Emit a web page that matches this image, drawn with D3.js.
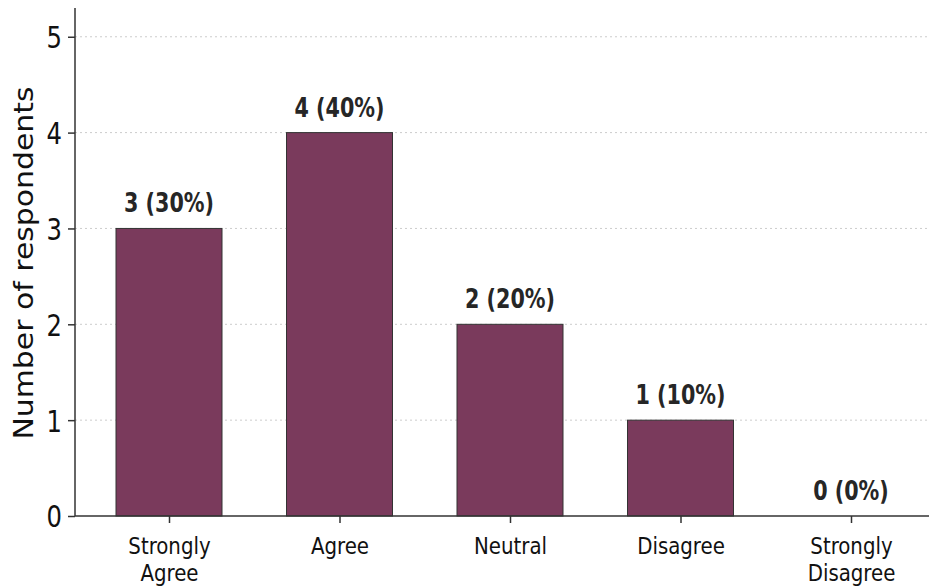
<!DOCTYPE html>
<html><head><meta charset="utf-8">
<script src="https://cdn.jsdelivr.net/npm/d3@7"></script>
<style>body{margin:0;background:#fff}svg{display:block}</style>
</head><body><div id="chart"></div>
<script>
const categories = [["Strongly","Agree"],["Agree"],["Neutral"],["Disagree"],["Strongly","Disagree"]];
const counts = [3, 4, 2, 1, 0];
const labels = ["3 (30%)","4 (40%)","2 (20%)","1 (10%)","0 (0%)"];
const yTicks = [0,1,2,3,4,5];

(function(){
const W = 929, H = 586;
const mLeft = 75, mBottom = 516, mTop = 8;
const cond = "DejaVu Sans Condensed, DejaVu Sans";
const svg = d3.select("#chart").append("svg").attr("width", W).attr("height", H);
const x = d3.scaleLinear().domain([0, 1]).range([169, 339.5]);
const bw = 106;
const y = d3.scaleLinear().domain([0, 5.3]).range([mBottom, mTop]);

// grid
svg.append("g").selectAll("line").data(yTicks.filter(d=>d>0)).join("line")
  .attr("x1", mLeft).attr("x2", W).attr("y1", d=>y(d)).attr("y2", d=>y(d))
  .attr("stroke", "#cccccc").attr("stroke-width", 1).attr("stroke-dasharray", "2,3");

// bars
svg.append("g").selectAll("rect").data(counts).join("rect")
  .attr("x", (d,i)=>x(i)-bw/2).attr("width", bw)
  .attr("y", d=>y(d)).attr("height", d=>mBottom-y(d))
  .attr("fill", "#7a3a5c").attr("stroke", "#333").attr("stroke-width", 1);

// value labels
svg.append("g").selectAll("text").data(counts).join("text")
  .attr("transform", (d,i)=>`translate(${x(i)},${y(d)-16}) scale(1,1.13)`)
  .attr("text-anchor","middle")
  .attr("font-family",cond).attr("font-weight","bold")
  .attr("font-size", 23).attr("fill","#262626")
  .text((d,i)=>labels[i]);

// y axis
const yAxis = d3.axisLeft(y).tickValues(yTicks).tickSize(7).tickFormat("");
const gy = svg.append("g").attr("transform",`translate(${mLeft},0)`).call(yAxis);
gy.select(".domain").attr("d", `M0,${mTop}V${mBottom}`).attr("stroke","#333").attr("stroke-width",1.5);
gy.selectAll(".tick line").attr("stroke","#333").attr("stroke-width",1.5);
gy.selectAll(".tick").append("text")
  .attr("transform","translate(-13,0) scale(1,1.12)")
  .attr("dy","0.36em").attr("text-anchor","end")
  .attr("font-family",cond).attr("font-size",27).attr("fill","#111")
  .text(d=>d3.format("d")(d));

// x axis
const xAxis = d3.axisBottom(x).tickValues(d3.range(categories.length)).tickSize(7).tickFormat("");
const gx = svg.append("g").attr("transform",`translate(0,${mBottom})`).call(xAxis);
gx.select(".domain").attr("d", `M${mLeft},0H${W}`).attr("stroke","#333").attr("stroke-width",1.5);
gx.selectAll(".tick line").attr("stroke","#333").attr("stroke-width",1.5);
gx.selectAll(".tick").each(function(d){
  categories[d].forEach((s,j)=>{
    d3.select(this).append("text").attr("fill","#111")
      .attr("transform",`translate(0,${38+j*27}) scale(1,1.08)`)
      .attr("font-family",cond).attr("font-size",22)
      .attr("text-anchor","middle").text(s);
  });
});

// y label
svg.append("text").attr("transform",`translate(33,263) scale(1,1.15) rotate(-90)`)
  .attr("text-anchor","middle").attr("font-family","DejaVu Sans").attr("font-size",26)
  .attr("fill","#111").text("Number of respondents");
})();
</script></body></html>
